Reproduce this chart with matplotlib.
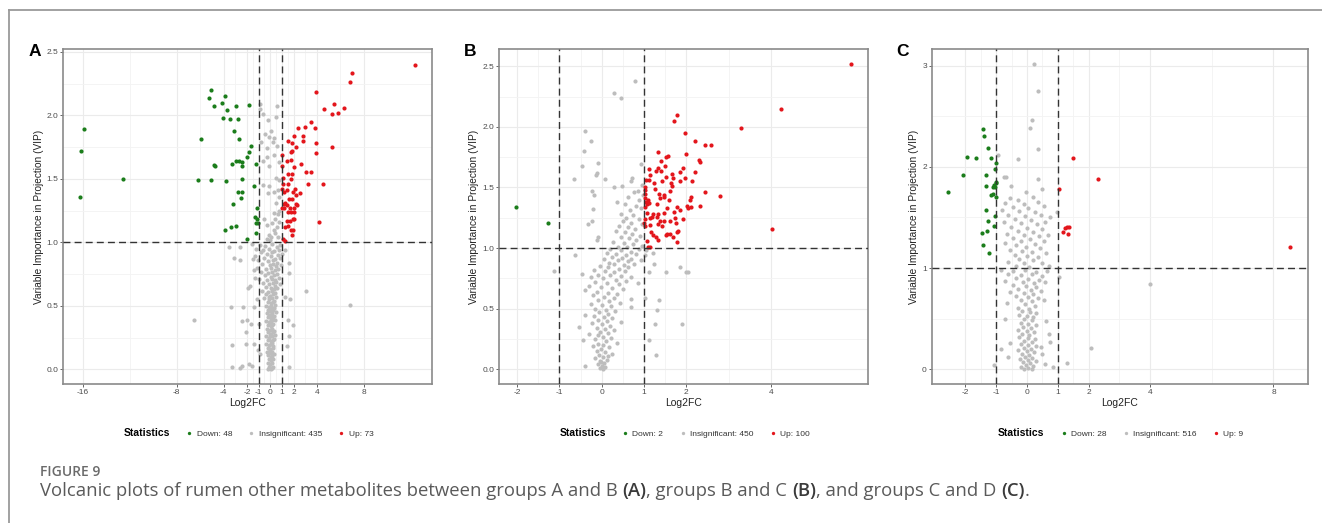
import matplotlib
matplotlib.use("Agg")
import matplotlib.pyplot as plt
from matplotlib.lines import Line2D

plt.rcParams['font.family'] = ['Liberation Sans', 'DejaVu Sans']

GREEN = '#1b7d1b'
RED = '#e3161c'
GREY = '#bdbdbd'

# ---------- panel A (groups A vs B) ----------
a_down = [(-15.95, 1.89), (-16.2, 1.72), (-16.3, 1.36), (-12.6, 1.50), (-5.93, 1.81),
          (-6.15, 1.49), (-5.04, 2.20), (-5.21, 2.14), (-4.81, 2.07), (-5.04, 1.49),
          (-4.84, 1.61), (-4.70, 1.60), (-4.13, 2.10), (-3.85, 2.15), (-3.68, 2.04),
          (-4.07, 1.98), (-3.42, 1.97), (-2.91, 2.07), (-2.79, 1.97), (-3.08, 1.88),
          (-2.65, 1.81), (-3.28, 1.62), (-2.96, 1.64), (-2.65, 1.64), (-2.39, 1.63),
          (-2.39, 1.60), (-3.79, 1.48), (-2.39, 1.50), (-2.74, 1.40), (-2.39, 1.40),
          (-2.51, 1.35), (-3.19, 1.30), (-3.87, 1.10), (-3.33, 1.12), (-2.96, 1.13),
          (-1.99, 1.03), (-1.82, 2.08), (-1.62, 1.76), (-1.82, 1.71), (-1.99, 1.67),
          (-1.20, 1.62), (-1.42, 1.44), (-1.14, 1.27), (-1.28, 1.20), (-1.14, 1.18),
          (-1.20, 1.15), (-1.05, 1.15), (-1.20, 1.07)]
a_up = [(12.39, 2.40), (6.95, 2.33), (6.81, 2.26), (3.87, 2.18), (4.59, 2.05),
        (5.41, 2.09), (5.30, 2.01), (5.81, 2.02), (6.30, 2.06), (5.30, 1.75),
        (3.48, 1.95), (2.93, 1.91), (2.39, 1.90), (3.85, 1.90), (1.99, 1.84),
        (2.79, 1.84), (2.76, 1.80), (1.51, 1.80), (1.85, 1.78), (3.87, 1.78),
        (2.22, 1.75), (1.85, 1.72), (1.74, 1.71), (3.87, 1.70), (1.00, 1.69),
        (1.79, 1.65), (1.45, 1.64), (2.65, 1.62), (2.05, 1.59), (3.05, 1.55),
        (3.48, 1.55), (1.54, 1.54), (1.82, 1.54), (1.11, 1.51), (1.51, 1.46),
        (1.79, 1.50), (3.19, 1.46), (4.50, 1.46), (1.42, 1.41), (1.17, 1.40),
        (1.03, 1.42), (1.94, 1.40), (2.11, 1.42), (2.54, 1.39), (2.22, 1.37),
        (1.57, 1.34), (1.88, 1.34), (1.28, 1.31), (1.14, 1.30), (1.42, 1.29),
        (2.22, 1.30), (2.28, 1.29), (1.03, 1.27), (1.20, 1.27), (1.65, 1.27),
        (1.99, 1.27), (1.51, 1.24), (1.77, 1.24), (2.02, 1.24), (4.16, 1.16),
        (1.42, 1.17), (1.65, 1.17), (1.91, 1.18), (2.05, 1.18), (1.28, 1.12),
        (1.48, 1.13), (1.77, 1.10), (1.91, 1.10), (1.88, 1.06), (1.08, 1.03),
        (1.28, 1.01), (1.00, 1.60), (1.05, 1.46)]
a_insig = [(-0.85, 2.09), (-0.88, 2.05), (0.57, 2.07), (-0.66, 2.01), (0.51, 1.99),
           (-0.20, 1.96), (0.06, 1.88), (-0.48, 1.85), (-0.11, 1.83), (0.28, 1.82),
           (-0.77, 1.79), (0.20, 1.79), (0.54, 1.76), (-0.28, 1.74), (0.34, 1.69),
           (-0.28, 1.67), (0.71, 1.63), (-0.63, 1.64), (-0.14, 1.60), (0.46, 1.51),
           (0.77, 1.49), (-0.66, 1.45), (-0.14, 1.44), (0.63, 1.41), (0.28, 1.40),
           (-0.23, 1.39), (0.77, 1.36), (0.51, 1.31), (0.71, 1.25), (0.34, 1.23),
           (0.68, 1.22), (-0.57, 1.18), (0.43, 1.18), (0.14, 1.15), (-0.28, 1.14),
           (0.77, 1.16), (0.57, 1.12), (0.28, 1.10), (-0.14, 1.06), (0.09, 1.04),
           (0.37, 1.07), (0.63, 1.04), (-0.28, 1.03), (0.00, 1.02),
           (-3.56, 0.96), (-2.62, 0.96), (-3.10, 0.88), (-2.62, 0.86), (-1.57, 0.99),
           (-6.55, 0.39), (-3.33, 0.49), (-2.34, 0.49), (-3.25, 0.19), (-2.11, 0.20),
           (-3.25, 0.02), (-2.56, 0.01), (-2.42, 0.03), (-1.85, 0.04), (-1.57, 0.03),
           (3.08, 0.62), (6.78, 0.51), (1.62, 0.84), (1.57, 0.76), (1.28, 0.57),
           (1.65, 0.55), (1.51, 0.39), (1.94, 0.35), (1.57, 0.26), (1.62, 0.02),
           (1.42, 0.18), (-1.99, 0.39), (-2.42, 0.38), (-2.05, 0.29), (-1.77, 0.66),
           (-1.91, 0.64), (-1.42, 0.78), (-1.48, 0.87), (-1.28, 0.72), (-1.42, 0.49),
           (-1.14, 0.55), (-1.00, 0.36), (-1.08, 0.15), (-0.91, 0.12), (-1.42, 0.20),
           (-1.62, 0.36), (1.14, 1.02), (1.28, 0.94),
           (-0.87, 0.98), (-0.42, 0.97), (0.12, 0.99), (0.53, 0.96), (0.81, 0.98),
           (-1.21, 0.95), (-0.63, 0.94), (-0.08, 0.95), (0.31, 0.93), (0.72, 0.94),
           (-0.78, 0.92), (-0.27, 0.91), (0.18, 0.92), (0.64, 0.90), (0.97, 0.91),
           (-1.33, 0.89), (-0.51, 0.88), (0.03, 0.89), (0.42, 0.87), (0.84, 0.88),
           (-1.02, 0.86), (-0.19, 0.85), (0.27, 0.86), (0.58, 0.84), (-0.71, 0.83),
           (-0.06, 0.82), (0.22, 0.83), (0.49, 0.81), (0.91, 0.82), (-1.18, 0.80),
           (-0.38, 0.79), (0.09, 0.80), (0.37, 0.78), (0.69, 0.79), (-0.82, 0.77),
           (-0.23, 0.76), (0.17, 0.77), (0.61, 0.75), (-0.47, 0.74), (0.02, 0.73),
           (0.33, 0.74), (0.74, 0.72), (-0.93, 0.71), (-0.29, 0.70), (0.11, 0.71),
           (0.52, 0.69), (-0.61, 0.68), (-0.12, 0.67), (0.24, 0.68), (0.43, 0.66),
           (0.79, 0.67), (-0.39, 0.65), (0.04, 0.64), (0.29, 0.63), (0.57, 0.64),
           (-0.68, 0.62), (-0.18, 0.61), (0.13, 0.62), (0.38, 0.60), (-0.33, 0.59),
           (-0.02, 0.58), (0.21, 0.59), (0.47, 0.57), (-0.52, 0.56), (-0.09, 0.55),
           (0.14, 0.56), (0.32, 0.54), (-0.21, 0.53), (0.03, 0.52), (0.23, 0.53),
           (0.41, 0.51), (-0.37, 0.50), (-0.11, 0.49), (0.08, 0.50), (0.28, 0.48),
           (-0.17, 0.47), (0.01, 0.46), (0.19, 0.47), (0.48, 0.45), (-0.31, 0.44),
           (-0.07, 0.43), (0.12, 0.44), (0.33, 0.42), (-0.22, 0.41), (0.04, 0.40),
           (0.24, 0.41), (0.39, 0.39), (-0.41, 0.38), (-0.13, 0.37), (0.09, 0.38),
           (0.27, 0.36), (-0.19, 0.35), (0.02, 0.34), (0.18, 0.35), (-0.28, 0.32),
           (-0.06, 0.31), (0.13, 0.32), (0.31, 0.30), (-0.16, 0.29), (0.05, 0.28),
           (0.22, 0.29), (0.42, 0.27), (-0.33, 0.26), (-0.09, 0.25), (0.11, 0.26),
           (0.29, 0.24), (-0.21, 0.23), (0.03, 0.22), (0.19, 0.23), (-0.38, 0.20),
           (-0.12, 0.19), (0.08, 0.20), (0.26, 0.18), (-0.17, 0.17), (0.01, 0.16),
           (0.21, 0.17), (-0.29, 0.14), (-0.07, 0.13), (0.12, 0.14), (0.32, 0.12),
           (-0.18, 0.11), (0.04, 0.10), (0.17, 0.11), (-0.11, 0.08), (0.09, 0.07),
           (0.27, 0.08), (-0.22, 0.05), (-0.02, 0.04), (0.16, 0.05), (-0.13, 0.02),
           (0.07, 0.01), (0.24, 0.02), (-0.19, 0.00), (0.02, 0.00), (0.13, 0.01),
           (-0.04, 0.36), (0.16, 0.39), (0.06, 0.42), (-0.03, 0.27), (0.15, 0.21),
           (-0.05, 0.15), (0.18, 0.09), (0.06, 0.48), (-0.14, 0.57), (0.36, 0.70)]

# ---------- panel B (groups B vs C) ----------
b_down = [(-2.03, 1.34), (-1.26, 1.21)]
b_up = [(5.89, 2.52), (4.24, 2.15), (3.29, 1.99), (4.02, 1.16), (1.77, 2.10),
        (1.70, 2.05), (1.97, 1.95), (2.20, 1.88), (2.44, 1.85), (2.58, 1.85),
        (1.99, 1.78), (1.34, 1.79), (1.56, 1.76), (1.51, 1.75), (1.39, 1.72),
        (1.50, 1.68), (2.29, 1.73), (2.32, 1.71), (1.93, 1.66), (2.21, 1.63),
        (1.11, 1.65), (1.27, 1.64), (1.32, 1.66), (1.40, 1.64), (1.13, 1.60),
        (1.04, 1.56), (1.12, 1.56), (1.24, 1.54), (1.42, 1.55), (1.51, 1.59),
        (1.65, 1.61), (1.69, 1.58), (1.63, 1.54), (1.85, 1.55), (1.96, 1.58),
        (2.13, 1.55), (1.01, 1.50), (1.01, 1.48), (1.26, 1.49), (1.36, 1.45),
        (1.46, 1.44), (1.61, 1.47), (1.10, 1.40), (1.38, 1.41), (1.46, 1.42),
        (2.45, 1.46), (2.80, 1.43), (2.10, 1.42), (2.08, 1.40), (1.04, 1.38),
        (1.06, 1.36), (1.30, 1.36), (1.12, 1.37), (2.32, 1.35), (2.02, 1.35),
        (2.04, 1.33), (2.10, 1.34), (1.03, 1.34), (1.08, 1.29), (1.22, 1.28),
        (1.30, 1.26), (1.34, 1.28), (1.13, 1.25), (1.47, 1.29), (1.02, 1.24),
        (1.00, 1.21), (1.18, 1.26), (1.93, 1.24), (1.73, 1.25), (1.75, 1.21),
        (1.62, 1.22), (1.46, 1.22), (1.32, 1.20), (1.43, 1.18), (1.55, 1.12),
        (1.62, 1.12), (1.51, 1.11), (1.69, 1.09), (1.77, 1.13), (1.80, 1.14),
        (1.77, 1.05), (1.17, 1.13), (1.21, 1.11), (1.29, 1.09), (1.32, 1.07),
        (1.06, 1.06), (1.10, 1.01), (1.14, 1.01), (1.01, 1.18), (1.02, 1.41),
        (1.02, 1.45), (1.14, 1.19), (1.38, 1.22), (1.65, 1.51), (1.77, 1.34),
        (1.85, 1.31), (1.60, 1.40), (1.71, 1.30), (1.54, 1.33), (1.85, 1.63)]
b_insig = [(0.79, 2.38), (0.28, 2.28), (0.45, 2.24), (-0.39, 1.97), (-0.25, 1.88),
           (-0.43, 1.80), (-0.47, 1.68), (-0.09, 1.70), (-0.12, 1.62), (-0.14, 1.60),
           (-0.65, 1.57), (0.07, 1.57), (-0.24, 1.47), (-0.18, 1.44), (-0.21, 1.32),
           (-0.33, 1.20), (-0.24, 1.22), (-0.12, 1.07), (-0.09, 1.09),
           (0.93, 1.69), (0.72, 1.58), (0.68, 1.55), (0.29, 1.50), (0.48, 1.51),
           (0.95, 1.52), (0.85, 1.47), (0.75, 1.46), (0.97, 1.44), (0.63, 1.42),
           (0.88, 1.40), (0.36, 1.38), (0.55, 1.36), (0.80, 1.35), (0.92, 1.33),
           (0.66, 1.31), (0.45, 1.28), (0.74, 1.27), (0.58, 1.25), (0.87, 1.24),
           (0.51, 1.22), (0.69, 1.21), (0.96, 1.20), (0.40, 1.18), (0.62, 1.17),
           (0.79, 1.16), (0.33, 1.14), (0.55, 1.13), (0.71, 1.12), (0.90, 1.10),
           (0.46, 1.09), (0.64, 1.08), (0.82, 1.07), (0.27, 1.05), (0.52, 1.04),
           (0.74, 1.03), (0.95, 1.02), (0.38, 1.01), (0.60, 1.01),
           (0.20, 0.99), (0.45, 0.98), (0.68, 0.97), (0.88, 0.99), (0.12, 0.96),
           (0.33, 0.95), (0.57, 0.94), (0.80, 0.95), (-0.63, 0.94), (0.25, 0.93),
           (0.48, 0.92), (0.70, 0.91), (0.05, 0.91), (0.38, 0.90), (0.61, 0.89),
           (0.92, 0.90), (0.18, 0.88), (0.28, 0.87), (0.52, 0.86), (0.75, 0.87),
           (-0.05, 0.85), (0.15, 0.84), (0.40, 0.83), (0.63, 0.84), (-1.14, 0.81),
           (-0.18, 0.82), (0.08, 0.81), (0.30, 0.80), (0.55, 0.81), (-0.46, 0.79),
           (-0.10, 0.78), (0.20, 0.78), (0.45, 0.77), (0.70, 0.76), (-0.25, 0.76),
           (0.02, 0.75), (0.33, 0.74), (0.58, 0.73), (-0.15, 0.72), (0.12, 0.71),
           (0.40, 0.70), (0.85, 0.71), (-0.30, 0.69), (-0.02, 0.68), (0.25, 0.67),
           (0.50, 0.66), (-0.39, 0.65), (-0.12, 0.64), (0.15, 0.63), (0.35, 0.62),
           (-0.20, 0.61), (0.05, 0.60), (0.28, 0.59), (0.70, 0.58), (-0.08, 0.57),
           (0.18, 0.56), (0.42, 0.55), (-0.25, 0.54), (0.00, 0.53), (0.22, 0.52),
           (0.68, 0.51), (-0.15, 0.50), (0.10, 0.49), (0.32, 0.48), (-0.06, 0.47),
           (0.15, 0.46), (-0.40, 0.45), (-0.18, 0.44), (0.05, 0.43), (0.25, 0.42),
           (-0.10, 0.41), (0.12, 0.40), (0.45, 0.39), (-0.22, 0.38), (0.00, 0.37),
           (0.20, 0.36), (-0.55, 0.35), (-0.12, 0.34), (0.08, 0.33), (0.30, 0.32),
           (-0.05, 0.31), (0.15, 0.30), (-0.30, 0.29), (-0.10, 0.28), (0.04, 0.27),
           (0.22, 0.26), (-0.16, 0.25), (-0.45, 0.24), (0.10, 0.23), (0.35, 0.22),
           (-0.08, 0.21), (0.03, 0.20), (-0.20, 0.19), (0.18, 0.18), (-0.02, 0.17),
           (-0.12, 0.15), (0.08, 0.14), (0.25, 0.13), (-0.06, 0.12), (0.02, 0.10),
           (-0.15, 0.09), (0.12, 0.08), (-0.04, 0.07), (0.05, 0.05), (-0.10, 0.04),
           (0.00, 0.03), (-0.39, 0.03), (0.08, 0.02), (-0.05, 0.01), (0.03, 0.00),
           (-0.02, 0.06), (0.15, 0.11),
           (1.01, 0.59), (1.36, 0.57), (1.30, 0.49), (1.26, 0.37), (1.12, 0.24),
           (1.28, 0.12), (1.90, 0.37), (1.99, 0.80), (2.03, 0.80), (1.84, 0.84),
           (1.52, 0.80), (1.12, 0.80), (1.24, 0.87), (1.02, 0.94), (1.05, 0.98),
           (1.20, 0.96)]

# ---------- panel C (groups C vs D) ----------
c_down = [(-1.41, 2.37), (-1.39, 2.30), (-1.27, 2.19), (-1.94, 2.10), (-1.65, 2.09),
          (-1.16, 2.09), (-1.01, 2.04), (-1.03, 1.98), (-2.08, 1.92), (-1.33, 1.92),
          (-2.56, 1.75), (-1.32, 1.81), (-1.11, 1.80), (-1.06, 1.82), (-1.01, 1.84),
          (-1.00, 1.85), (-1.15, 1.72), (-1.09, 1.73), (-1.01, 1.70), (-1.32, 1.57),
          (-1.03, 1.51), (-1.27, 1.46), (-1.07, 1.42), (-1.31, 1.37), (-1.45, 1.35),
          (-1.42, 1.23), (-1.24, 1.15), (-1.04, 1.80)]
c_up = [(1.50, 2.09), (2.32, 1.88), (1.05, 1.78), (1.23, 1.40), (1.31, 1.41),
        (1.35, 1.41), (1.18, 1.36), (1.33, 1.34), (8.54, 1.21)]
c_insig = [(0.24, 3.01), (0.37, 2.75), (0.15, 2.46), (0.09, 2.38), (0.36, 2.18),
           (-0.28, 2.08), (-0.93, 2.12), (-0.69, 1.90), (-0.74, 1.90), (-0.51, 1.81),
           (0.35, 1.88), (0.50, 1.78), (-0.04, 1.75), (3.99, 0.84), (2.08, 0.21),
           (1.30, 0.06), (0.85, 0.02), (-1.07, 0.04), (0.96, 1.55), (1.04, 0.91),
           (-0.55, 1.69), (-0.30, 1.67), (0.20, 1.70), (-0.70, 1.64), (-0.10, 1.63),
           (0.35, 1.65), (-0.45, 1.60), (0.05, 1.59), (0.55, 1.61), (-0.80, 1.57),
           (-0.25, 1.56), (0.25, 1.55), (-0.60, 1.52), (-0.05, 1.51), (0.45, 1.52),
           (0.75, 1.50), (-0.40, 1.48), (0.12, 1.47), (-0.75, 1.45), (-0.18, 1.44),
           (0.32, 1.43), (0.60, 1.45), (-0.52, 1.41), (0.00, 1.40), (0.48, 1.39),
           (-0.30, 1.37), (0.20, 1.36), (-0.65, 1.34), (-0.08, 1.33), (0.38, 1.32),
           (0.68, 1.33), (-0.45, 1.30), (0.10, 1.29), (-0.20, 1.27), (0.55, 1.27),
           (-0.72, 1.25), (-0.35, 1.23), (0.25, 1.24), (-0.02, 1.21), (0.42, 1.20),
           (-0.55, 1.18), (-0.15, 1.17), (0.15, 1.16), (0.62, 1.15), (-0.40, 1.13),
           (0.00, 1.12), (0.35, 1.11), (-0.25, 1.09), (0.20, 1.08), (-0.62, 1.06),
           (-0.10, 1.05), (0.50, 1.05), (-0.35, 1.02), (0.08, 1.01), (0.70, 1.02),
           (-0.85, 0.98), (-0.45, 0.97), (-0.05, 0.98), (0.30, 0.96), (0.65, 0.97),
           (-0.60, 0.94), (-0.20, 0.93), (0.15, 0.94), (0.50, 0.92), (-0.35, 0.90),
           (0.05, 0.89), (0.38, 0.88), (-0.70, 0.87), (-0.12, 0.86), (0.22, 0.85),
           (0.60, 0.86), (-0.45, 0.83), (-0.02, 0.82), (0.30, 0.81), (-0.28, 0.79),
           (0.12, 0.78), (0.45, 0.77), (-0.55, 0.76), (-0.10, 0.75), (0.20, 0.74),
           (-0.35, 0.72), (0.02, 0.71), (0.35, 0.70), (-0.18, 0.68), (0.15, 0.67),
           (0.55, 0.68), (-0.65, 0.65), (-0.05, 0.64), (0.25, 0.63), (-0.30, 0.61),
           (0.08, 0.60), (-0.15, 0.58), (0.10, 0.57), (0.30, 0.56), (-0.25, 0.54),
           (0.00, 0.53), (0.20, 0.52), (-0.70, 0.50), (-0.10, 0.50), (0.15, 0.49),
           (0.62, 0.48), (-0.20, 0.46), (0.05, 0.45), (0.28, 0.44), (-0.12, 0.42),
           (0.12, 0.41), (-0.30, 0.39), (0.00, 0.38), (0.22, 0.37), (-0.15, 0.35),
           (0.08, 0.34), (0.70, 0.35), (-0.25, 0.32), (0.02, 0.31), (0.25, 0.30),
           (-0.10, 0.28), (0.15, 0.27), (-0.55, 0.26), (-0.20, 0.25), (0.05, 0.24),
           (0.30, 0.23), (-0.08, 0.21), (0.12, 0.20), (-0.28, 0.19), (0.00, 0.18),
           (0.22, 0.17), (-0.15, 0.15), (0.08, 0.14), (0.50, 0.15), (-0.05, 0.12),
           (0.18, 0.11), (-0.22, 0.10), (0.02, 0.09), (0.28, 0.08), (-0.12, 0.07),
           (0.10, 0.06), (-0.02, 0.04), (0.20, 0.03), (-0.18, 0.02), (0.05, 0.01),
           (0.15, 0.00), (-0.08, 0.00), (0.60, 0.05), (-0.85, 0.20), (-0.60, 0.12),
           (0.45, 0.22), (0.75, 0.27)]

panels = [
    dict(label='A', down=a_down, up=a_up, insig=a_insig, counts=(48, 435, 73),
         xticks=[-16, -8, -4, -2, -1, 0, 1, 2, 4, 8], xlim=(-17.7, 13.8),
         yticks=[0, 0.5, 1.0, 1.5, 2.0, 2.5], ylim=(-0.118, 2.52), yfmt='{:.1f}'),
    dict(label='B', down=b_down, up=b_up, insig=b_insig, counts=(2, 450, 100),
         xticks=[-2, -1, 0, 1, 2, 4], xlim=(-2.43, 6.30),
         yticks=[0, 0.5, 1.0, 1.5, 2.0, 2.5], ylim=(-0.124, 2.64), yfmt='{:.1f}'),
    dict(label='C', down=c_down, up=c_up, insig=c_insig, counts=(28, 516, 9),
         xticks=[-2, -1, 0, 1, 2, 4, 8], xlim=(-3.09, 9.11),
         yticks=[0, 1, 2, 3], ylim=(-0.148, 3.16), yfmt='{:.0f}'),
]

W, H = 1322, 523
fig = plt.figure(figsize=(W / 100, H / 100), dpi=100)
boxes = [(63.3, 431.7), (499, 868.3), (931.7, 1307.7)]
top, bot = 49.3, 384.3

for p, (x0, x1) in zip(panels, boxes):
    ax = fig.add_axes([x0 / W, 1 - bot / H, (x1 - x0) / W, (bot - top) / H])
    ax.set_facecolor('white')
    # ggplot-like grid: majors at breaks, minors at midpoints
    xt = p['xticks']
    yt = p['yticks']
    xminor = [(a + b) / 2 for a, b in zip(xt[:-1], xt[1:])]
    yminor = [(a + b) / 2 for a, b in zip(yt[:-1], yt[1:])]
    ax.set_xticks(xminor, minor=True)
    ax.set_yticks(yminor, minor=True)
    ax.grid(which='major', color='#ebebeb', lw=0.8, zorder=0)
    ax.grid(which='minor', color='#f3f3f3', lw=0.6, zorder=0)

    for pts, col in [(p['insig'], GREY), (p['down'], GREEN), (p['up'], RED)]:
        xs, ys = zip(*pts)
        ax.scatter(xs, ys, s=9, color=col, linewidths=0, zorder=3)

    for v in (-1, 1):
        ax.axvline(v, color='#333333', lw=1.0, ls=(0, (5, 3)), zorder=4)
    ax.axhline(1, color='#333333', lw=1.0, ls=(0, (5, 3)), zorder=4)

    ax.set_xlim(*p['xlim'])
    ax.set_ylim(*p['ylim'])
    ax.set_xticks(xt)
    ax.set_xticklabels([str(v) for v in xt])
    ax.set_yticks(yt)
    ax.set_yticklabels([p['yfmt'].format(v) for v in yt])
    ax.tick_params(which='major', labelsize=6, colors='#4d4d4d', length=2, width=0.6, pad=1.5)
    ax.tick_params(which='minor', length=0)
    for s in ax.spines.values():
        s.set_color('#8a8a8a')
        s.set_linewidth(1.2)
    ax.set_xlabel('Log2FC', fontsize=7.5, color='#222222', labelpad=1.5)
    ax.set_ylabel('Variable Importance in Projection (VIP)', fontsize=7.3, color='#222222', labelpad=2)

    fig.text((x0 - 35) / W, 1 - 52 / H, p['label'], fontsize=12.5, fontweight='bold',
             ha='left', va='center')

    nd, ni, nu = p['counts']
    handles = [Line2D([], [], ls='none', marker=None),
               Line2D([], [], ls='none', marker='o', ms=2.4, mfc=GREEN, mec='none'),
               Line2D([], [], ls='none', marker='o', ms=2.4, mfc=GREY, mec='none'),
               Line2D([], [], ls='none', marker='o', ms=2.4, mfc=RED, mec='none')]
    labels = ['Statistics', f'Down: {nd}', f'Insignificant: {ni}', f'Up: {nu}']
    leg = fig.legend(handles, labels, loc='center', ncol=4, frameon=False,
                     bbox_to_anchor=((x0 + x1) / 2 / W - 0.003, 1 - 433 / H),
                     fontsize=6, handlelength=0.6, handletextpad=0.6,
                     columnspacing=2.0)
    leg.get_texts()[0].set_fontweight('bold')
    leg.get_texts()[0].set_fontsize(7.5)
    for t in leg.get_texts()[1:]:
        t.set_color('#333333')

# outer frame of the figure box
fig.add_artist(Line2D([9 / W, 1], [1 - 10 / H, 1 - 10 / H], color='#9a9a9a', lw=1.3))
fig.add_artist(Line2D([9 / W, 9 / W], [0, 1 - 10 / H], color='#9a9a9a', lw=1.3))

# caption
cap_font = ['Open Sans', 'DejaVu Sans']
fig.text(40 / W, 1 - 472 / H, 'FIGURE 9', fontsize=10, color='#6b6b6b',
         family=cap_font, fontweight='semibold', va='center')
pieces = ['Volcanic plots of rumen other metabolites between groups A and B ', '(A)',
          ', groups B and C ', '(B)', ', and groups C and D ', '(C)', '.']
renderer = fig.canvas.get_renderer()
xpos = 40
for i, s in enumerate(pieces):
    bold = i % 2 == 1
    t = fig.text(xpos / W, 1 - 496 / H, s, fontsize=13.3, va='baseline', ha='left',
                 family=cap_font, color='#3a3a3a' if bold else '#5a5a5a',
                 fontweight='semibold' if bold else 'normal')
    bb = t.get_window_extent(renderer)
    xpos += bb.width

fig.savefig('out.png', dpi=100)
